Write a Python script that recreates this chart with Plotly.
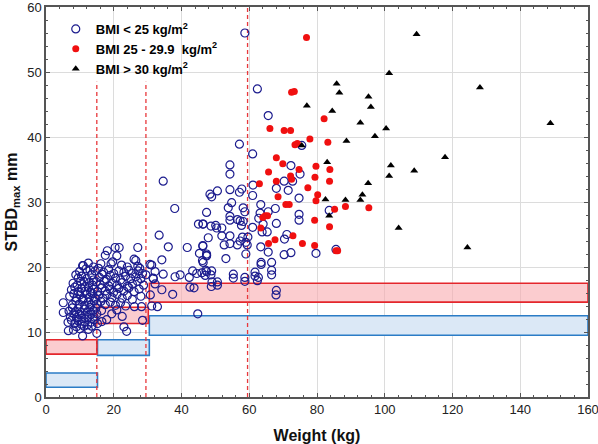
import plotly.graph_objects as go

# ---- data: BMI < 25 (open circles) ----
lean_x = [17.5,18.1,20.4,21.6,20.9,27.1,
 11.0,10.8,16.2,19.2,19.7,22.3,26.0,26.5,27.1,30.7,12.5,14.0,24.0,
 9.9,11.8,13.0,14.5,15.5,17.0,18.5,20.0,21.5,23.0,24.5,25.5,27.7,27.2,28.5,8.8,
 9.5,10.5,12.0,13.5,14.0,15.8,16.5,17.8,19.0,20.5,22.0,23.5,25.0,26.5,28.0,29.5,31.6,11.2,
 8.0,9.2,10.2,11.5,12.8,13.8,14.8,16.0,17.2,18.5,19.5,21.0,22.5,24.0,25.5,27.0,28.8,
 7.5,8.5,9.5,10.5,11.5,12.5,13.2,14.2,15.2,16.5,17.5,18.8,20.0,21.5,23.0,24.5,26.0,27.5,
 7.0,8.2,9.0,10.0,11.0,12.0,12.8,13.8,14.5,15.5,16.8,18.0,19.5,21.0,22.5,24.0,25.5,28.0,
 5.1,7.8,8.8,9.8,10.8,11.5,12.5,13.3,14.2,15.0,16.2,17.5,19.0,20.5,22.0,23.5,
 6.8,7.8,8.6,9.5,10.4,11.3,12.2,13.0,13.9,14.7,16.4,20.9,26.1,28.2,5.1,
 7.2,8.2,9.0,9.8,10.6,11.5,12.4,13.3,14.2,15.0,19.4,22.5,17.9,
 6.5,7.5,8.5,9.5,10.4,11.4,12.3,13.3,14.2,15.2,28.5,16.5,
 6.6,8.1,9.0,10.0,11.2,12.5,13.5,23.0,23.8,
 10.8,15.0,
 34.6,38.0,33.4,36.1,41.7,34.2,31.2,32.2,34.6,38.1,39.6,42.3,43.3,44.5,46.0,47.0,48.7,
 31.7,32.2,34.2,37.4,42.5,43.7,48.8,50.6,30.8,31.2,32.9,44.8,55.3,61.7,62.4,66.6,58.7,
 67.9,49.0,50.6,68.0,47.2,48.9,47.4,55.3,58.7,61.7,62.7,63.5,63.5,66.6,
 58.7,62.4,65.6,57.1,61.0,54.3,54.3,72.3,75.0,70.3,72.8,61.1,68.0,71.5,48.4,48.9,50.6,
 54.3,57.1,57.8,61.0,74.7,47.4,54.8,53.8,58.2,58.7,63.4,63.2,65.6,67.7,46.3,50.1,51.9,
 54.3,54.3,56.5,57.3,58.2,57.7,61.0,62.8,64.1,65.3,63.8,68.0,74.7,74.7,83.6,71.1,70.4,
 47.9,51.9,54.3,52.6,54.3,56.5,57.3,58.0,59.0,59.4,59.6,46.3,47.4,47.4,46.2,53.1,59.0,
 63.4,65.6,66.6,70.3,72.3,79.7,85.6,45.0,46.4,48.7,50.4,46.3,45.3,47.4,46.4,75.5]
lean_y = [21.8,22.5,23.0,23.0,21.7,23.0,
 20.2,20.2,20.5,20.5,20.8,20.3,21.2,21.0,20.1,20.4,20.6,20.0,20.0,
 19.3,19.7,19.5,19.4,19.8,19.2,19.6,19.0,19.4,19.2,19.5,19.0,19.8,19.4,19.0,18.8,
 18.3,18.6,18.2,18.8,18.0,18.4,18.9,18.1,18.7,18.3,18.0,18.6,18.2,18.5,18.2,18.8,18.3,17.8,
 17.5,17.2,17.8,17.0,17.6,17.2,17.7,17.3,17.8,17.1,17.5,17.2,17.6,17.0,17.4,17.8,17.2,
 16.5,16.9,16.2,16.7,16.3,16.8,16.1,16.6,16.2,16.8,16.3,16.6,16.1,16.7,16.3,16.8,16.2,16.6,
 15.5,15.9,15.2,15.7,15.1,15.8,15.3,15.9,15.2,15.6,15.2,15.8,15.3,15.8,15.2,15.6,15.0,15.5,
 14.5,14.2,14.8,14.3,14.9,14.1,14.6,14.2,14.8,14.3,14.7,14.2,14.6,14.1,14.5,14.0,
 13.2,13.7,13.1,13.6,13.0,13.5,13.1,13.8,13.3,13.7,13.3,13.4,13.9,13.9,13.0,
 12.3,12.8,12.2,12.7,12.1,12.6,12.2,12.7,12.3,12.8,12.8,12.4,11.9,
 11.5,11.8,11.3,11.7,11.2,11.6,11.1,11.5,11.9,11.3,11.8,11.6,
 10.2,10.3,10.8,10.5,10.9,10.4,10.9,10.8,10.1,
 9.4,9.8,
 33.2,29.0,24.9,23.1,23.0,21.1,20.3,19.3,18.9,18.5,18.8,18.4,19.4,19.0,19.1,18.7,18.8,
 18.2,17.4,16.5,15.8,16.9,16.8,17.0,17.2,15.7,14.0,13.9,12.8,18.3,18.6,17.9,18.8,17.8,
 15.7,17.7,17.7,16.4,19.5,19.4,19.3,18.9,18.4,19.2,18.4,20.7,20.4,19.5,
 56.0,47.4,43.3,38.9,37.4,35.7,34.3,35.6,34.3,33.2,33.2,32.6,32.1,31.8,31.2,30.8,31.7,
 31.9,31.5,32.0,31.0,30.6,28.4,29.9,29.1,29.1,28.5,29.6,28.3,28.5,29.0,26.6,26.4,26.0,
 27.8,27.2,27.3,27.1,27.0,26.4,26.1,27.5,26.6,25.4,25.4,26.7,28.1,27.2,28.7,25.0,24.3,
 24.5,24.8,24.8,23.4,23.6,23.4,24.0,24.6,23.8,23.4,24.6,23.3,22.0,21.8,21.0,21.3,22.0,
 23.1,22.3,20.7,21.9,22.2,22.1,22.7,26.6,26.6,26.3,26.0,23.2,22.1,21.7,20.7,38.7]

# ---- data: BMI 25 - 29.9 (filled red circles) ----
over_x = [76.9,72.5,73.3,66.1,70.3,72.2,82.1,77.9,83.2,73.5,74.2,68.0,69.9,65.7,72.2,72.5,
 74.7,79.7,83.8,79.4,83.7,68.0,63.0,77.3,80.2,68.5,79.7,70.8,71.8,85.2,88.4,95.3,
 64.7,65.4,64.0,63.4,79.3,83.7,72.9,67.6,65.7,75.7,79.3,86.1,85.6]
over_y = [55.3,46.9,47.0,41.3,41.0,41.0,42.8,39.7,39.2,38.8,39.0,36.8,35.9,34.6,34.0,33.5,
 35.0,35.5,35.0,33.8,33.2,33.2,32.8,32.2,31.1,30.8,30.2,29.6,29.6,28.9,29.3,29.1,
 27.9,27.9,27.6,26.0,27.2,26.2,24.8,24.2,23.6,23.6,23.3,22.5,22.5]

# ---- data: BMI > 30 (black triangles) ----
obese_x = [109.4,101.3,128.1,100.4,148.9,117.8,101.8,101.3,108.7,104.1,124.4,85.8,86.6,95.2,
 95.9,77.0,84.5,92.8,97.1,88.7,75.5,83.0,95.1,93.4,92.8,82.5,88.4,83.6]
obese_y = [55.8,49.8,47.6,41.3,42.1,36.9,35.6,34.0,34.8,26.0,23.0,48.2,46.8,46.2,
 44.6,44.8,44.0,42.2,40.1,39.4,38.7,36.1,32.9,31.1,30.3,30.4,30.3,27.9]

# ---- reference ranges (rectangles) ----
red_box_x0 = [0, 15, 30.5]
red_box_x1 = [15, 30.2, 160]
red_box_y0 = [6.6, 11.3, 14.6]
red_box_y1 = [8.8, 13.8, 17.5]
blue_box_x0 = [0, 15.2, 30.5]
blue_box_x1 = [15.2, 30.5, 160]
blue_box_y0 = [1.5, 6.4, 9.5]
blue_box_y1 = [3.7, 8.8, 12.5]

# ---- dashed weight cut-offs ----
cut_x = [15, 29.5, 59.5]
cut_top = [48.5, 48.5, 60]

fig = go.Figure()

shapes = []
for x0, x1, y0, y1 in zip(blue_box_x0, blue_box_x1, blue_box_y0, blue_box_y1):
    shapes.append(dict(type="rect", xref="x", yref="y", x0=x0, x1=x1, y0=y0, y1=y1,
                       fillcolor="#dbe8f6", line=dict(color="#2b7cc6", width=1.6), layer="between"))
for x0, x1, y0, y1 in zip(red_box_x0, red_box_x1, red_box_y0, red_box_y1):
    shapes.append(dict(type="rect", xref="x", yref="y", x0=x0, x1=x1, y0=y0, y1=y1,
                       fillcolor="rgba(248,170,175,0.6)", line=dict(color="#e4262c", width=1.6), layer="between"))
for cx, ct in zip(cut_x, cut_top):
    shapes.append(dict(type="line", xref="x", yref="y", x0=cx, x1=cx, y0=0, y1=ct,
                       line=dict(color="#e8383c", width=1.3, dash="4px,3px"), layer="between"))

fig.add_trace(go.Scatter(x=lean_x, y=lean_y, mode="markers", name="<b>BMI < 25 kg/m<sup>2</sup></b>",
                         marker=dict(symbol="circle-open", size=8, color="#1c1c8e", line=dict(width=1.2))))
fig.add_trace(go.Scatter(x=over_x, y=over_y, mode="markers", name="<b>BMI 25 - 29.9  kg/m<sup>2</sup></b>",
                         marker=dict(symbol="circle", size=7, color="#f01010")))
fig.add_trace(go.Scatter(x=obese_x, y=obese_y, mode="markers", name="<b>BMI > 30 kg/m<sup>2</sup></b>",
                         marker=dict(symbol="triangle-up", size=7, color="black")))

axis_common = dict(
    showline=True, linecolor="#555555", linewidth=1.5, mirror="ticks",
    ticks="inside", ticklen=4, tickcolor="#555555",
    showgrid=True, gridcolor="#dcdcdc", gridwidth=1, zeroline=False,
    ticklabeloverflow="allow", automargin=False,
    tickfont=dict(family="Liberation Sans, Arial", size=13, color="#222222"),
)

fig.update_layout(
    width=598, height=444,
    margin=dict(l=46, r=10, t=7, b=47),
    paper_bgcolor="white", plot_bgcolor="white",
    shapes=shapes,
    showlegend=True,
    legend=dict(x=0.018, y=0.982, xanchor="left", yanchor="top", bgcolor="rgba(0,0,0,0)",
                font=dict(family="Liberation Sans, Arial", size=13, color="black"),
                tracegroupgap=0),
    xaxis=dict(range=[0, 160], dtick=20, tick0=0,
               minor=dict(dtick=4, ticks="inside", ticklen=2.5, tickcolor="#555555", showgrid=False),
               title=dict(text="<b>Weight (kg)</b>", font=dict(family="Liberation Sans, Arial", size=16, color="#111"), standoff=14),
               **axis_common),
    yaxis=dict(range=[0, 60], dtick=10, tick0=0,
               minor=dict(dtick=2, ticks="inside", ticklen=2.5, tickcolor="#555555", showgrid=False),
               title=dict(text="<b>STBD<sub>max</sub> mm</b>", font=dict(family="Liberation Sans, Arial", size=16, color="#111"), standoff=6),
               **axis_common),
)

fig.write_html("out.html", config={"displayModeBar": False},
               post_script="document.body.style.margin='0px';document.body.style.overflow='hidden';")
